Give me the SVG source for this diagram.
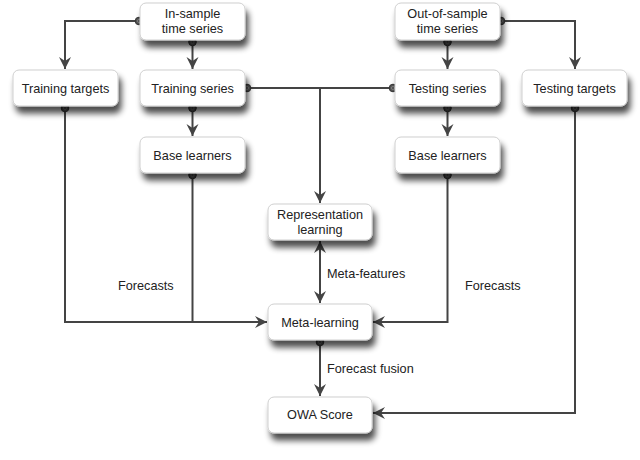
<svg xmlns="http://www.w3.org/2000/svg" width="640" height="460" viewBox="0 0 640 460">
<defs>
<filter id="sh" x="-20%" y="-30%" width="150%" height="200%">
<feGaussianBlur in="SourceAlpha" stdDeviation="3.2"/>
<feOffset dx="3" dy="7" result="b"/>
<feComponentTransfer><feFuncA type="linear" slope="0.7"/></feComponentTransfer>
<feMerge><feMergeNode/><feMergeNode in="SourceGraphic"/></feMerge>
</filter>
<marker id="arr" markerUnits="userSpaceOnUse" markerWidth="14" markerHeight="14" viewBox="0 0 14 14" refX="13" refY="7" orient="auto-start-reverse">
<path d="M1,1 L13,7 L1,13 L5,7 Z" fill="#444"/>
</marker>
<marker id="dot" markerUnits="userSpaceOnUse" markerWidth="10" markerHeight="10" viewBox="0 0 10 10" refX="5" refY="5" orient="auto">
<circle cx="5" cy="5" r="3.8" fill="#555" stroke="#333" stroke-width="1"/>
<circle cx="5" cy="5" r="1.6" fill="none" stroke="#888" stroke-width="0.8"/>
</marker>
</defs>
<style>
.box{fill:#fff;stroke:#cfcfcf;stroke-width:1;filter:url(#sh)}
.t{font-family:"Liberation Sans",Arial,sans-serif;font-size:12.7px;fill:#222;text-anchor:middle}
.l{font-family:"Liberation Sans",Arial,sans-serif;font-size:12.7px;fill:#222}
.c{fill:none;stroke:#444;stroke-width:2}
.a{marker-end:url(#arr)}
.s{marker-start:url(#dot)}
</style>
<rect width="640" height="460" fill="#fff"/>
<g id="connectors">
<path class="c s a" d="M139,21 H65 V69"/>
<path class="c s a" d="M192.5,42 V69"/>
<path class="c s a" d="M501,21 H575 V69"/>
<path class="c s a" d="M447.5,42 V69"/>
<path class="c s a" d="M247,88 H320 V203"/>
<path class="c s" d="M393,88 H320"/>
<path class="c s a" d="M192.5,108 V136"/>
<path class="c s a" d="M447.5,108 V136"/>
<path class="c s a" d="M65,108 V322 H267"/>
<path class="c s" d="M192.5,175 V322"/>
<path class="c s a" d="M447.5,175 V322 H373"/>
<path class="c a" d="M320,280 V241"/>
<path class="c a" d="M320,270 V303"/>
<path class="c s a" d="M320,342 V396"/>
<path class="c s a" d="M575,108 V413 H373"/>
<text class="l" x="118" y="290">Forecasts</text>
<text class="l" x="465" y="290">Forecasts</text>
<text class="l" x="327" y="278">Meta-features</text>
<text class="l" x="327" y="373">Forecast fusion</text>
</g>
<g id="in-sample"><rect class="box" x="140" y="3" width="105" height="37" rx="6"/><text class="t" x="192.5" y="18">In-sample</text><text class="t" x="192.5" y="33">time series</text></g>
<g id="out-of-sample"><rect class="box" x="395" y="3" width="105" height="37" rx="6"/><text class="t" x="447.5" y="18">Out-of-sample</text><text class="t" x="447.5" y="33">time series</text></g>
<g id="training-targets"><rect class="box" x="13" y="70" width="105" height="36" rx="6"/><text class="t" x="65.5" y="92.5">Training targets</text></g>
<g id="training-series"><rect class="box" x="140" y="70" width="105" height="36" rx="6"/><text class="t" x="192.5" y="92.5">Training series</text></g>
<g id="testing-series"><rect class="box" x="395" y="70" width="105" height="36" rx="6"/><text class="t" x="447.5" y="92.5">Testing series</text></g>
<g id="testing-targets"><rect class="box" x="522" y="70" width="105" height="36" rx="6"/><text class="t" x="574.5" y="92.5">Testing targets</text></g>
<g id="base-learners-left"><rect class="box" x="140" y="137" width="105" height="36" rx="6"/><text class="t" x="192.5" y="159.5">Base learners</text></g>
<g id="base-learners-right"><rect class="box" x="395" y="137" width="105" height="36" rx="6"/><text class="t" x="447.5" y="159.5">Base learners</text></g>
<g id="representation-learning"><rect class="box" x="268" y="204" width="104" height="36" rx="6"/><text class="t" x="320" y="219">Representation</text><text class="t" x="320" y="234">learning</text></g>
<g id="meta-learning"><rect class="box" x="268" y="304" width="104" height="36" rx="6"/><text class="t" x="320" y="326.5">Meta-learning</text></g>
<g id="owa-score"><rect class="box" x="268" y="397" width="104" height="36" rx="6"/><text class="t" x="320" y="419">OWA Score</text></g>
</svg>
